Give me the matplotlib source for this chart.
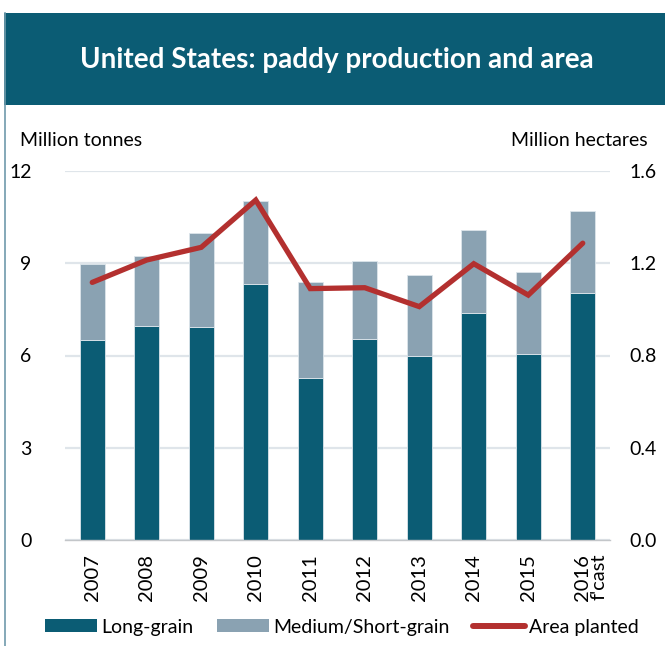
import matplotlib
matplotlib.use("Agg")
import matplotlib.pyplot as plt
from matplotlib.patches import Rectangle, Patch
from matplotlib.lines import Line2D
import numpy as np

plt.rcParams['font.family'] = ['Lato', 'DejaVu Sans']

years = ["2007", "2008", "2009", "2010", "2011", "2012", "2013", "2014", "2015", "2016"]
long_grain = [6.49, 6.96, 6.93, 8.31, 5.28, 6.54, 5.99, 7.38, 6.04, 8.02]
total = [8.99, 9.24, 9.97, 11.02, 8.39, 9.07, 8.62, 10.07, 8.73, 10.70]
medium_short = [t - l for t, l in zip(total, long_grain)]
area = [1.117, 1.214, 1.269, 1.474, 1.090, 1.094, 1.012, 1.198, 1.062, 1.287]
left_ticks = [0, 3, 6, 9, 12]
right_ticks = [0.0, 0.4, 0.8, 1.2, 1.6]

C_LONG = '#0b5c74'
C_MED = '#8aa2b2'
C_LINE = '#b3302f'
C_BANNER = '#0b5c74'

W, H = 665, 646
fig = plt.figure(figsize=(W / 100, H / 100), dpi=100)

# banner
fig.patches.append(Rectangle((4 / W, 1 - 105 / H), 1 - 4 / W, 92 / H,
                             transform=fig.transFigure, facecolor=C_BANNER,
                             edgecolor='none', zorder=0))
# left border line
fig.lines.append(Line2D([4.5 / W, 4.5 / W], [0, 1 - 13 / H], transform=fig.transFigure,
                        color='#6f9aab', lw=1.2))
fig.text(337 / W, 1 - 60 / H, "United States: paddy production and area",
         color='white', fontsize=20, fontweight='bold', ha='center', va='center')

ax = fig.add_axes([65 / W, 1 - 540 / H, 545 / W, 369 / H])
x = np.arange(len(years))
bw = 0.46
ax.bar(x, long_grain, width=bw, color=C_LONG, edgecolor='#dce5eb', linewidth=0.6, zorder=2)
ax.bar(x, medium_short, bottom=long_grain, width=bw, color=C_MED, edgecolor='#dce5eb',
       linewidth=0.6, zorder=2)
ax.set_xlim(-0.5, len(years) - 0.5)
ax.set_ylim(0, 12)
ax.set_yticks(left_ticks)
ax.set_yticklabels([str(t) for t in left_ticks])
ax.set_xticks(x)
ax.set_xticklabels(years, rotation=90, fontsize=14.5)
ax.tick_params(axis='x', length=0, pad=10)
ax.tick_params(axis='y', length=0, pad=24, labelsize=14)
ax.grid(axis='y', color='#dfe5ea', lw=1.6, zorder=0)
ax.set_axisbelow(True)
for s in ['top', 'right', 'left']:
    ax.spines[s].set_visible(False)
ax.spines['bottom'].set_color('#c3c6c9')
ax.spines['bottom'].set_linewidth(1.0)
ax.spines['bottom'].set_zorder(3)

ax.annotate("f'cast", xy=(9, 0), xycoords=('data', 'axes fraction'),
            xytext=(12, -10), textcoords='offset points', rotation=90,
            ha='center', va='top', fontsize=14.5)

ax2 = ax.twinx()
ax2.plot(x, area, color=C_LINE, lw=3.8, solid_capstyle='round', solid_joinstyle='miter', zorder=4)
ax2.set_ylim(0, 1.6)
ax2.set_yticks(right_ticks)
ax2.set_yticklabels([f"{t:.1f}" for t in right_ticks])
ax2.tick_params(axis='y', length=0, pad=14, labelsize=14)
for s in ['top', 'right', 'left', 'bottom']:
    ax2.spines[s].set_visible(False)

fig.text(20 / W, 1 - 146 / H, "Million tonnes", fontsize=14, ha='left', va='baseline')
fig.text(648 / W, 1 - 146 / H, "Million hectares", fontsize=14, ha='right', va='baseline')

handles = [Patch(facecolor=C_LONG, edgecolor='none'),
           Patch(facecolor=C_MED, edgecolor='none'),
           Line2D([0], [0], color=C_LINE, lw=4.3, solid_capstyle='round')]
labels = ["Long-grain", "Medium/Short-grain", "Area planted"]
fig.legend(handles, labels, loc='center', bbox_to_anchor=(342 / W, 1 - 627 / H), ncol=3,
           frameon=False, fontsize=14, handlelength=2.7, handleheight=0.6,
           handletextpad=0.2, columnspacing=1.2, borderaxespad=0, borderpad=0)

fig.savefig("out.png", dpi=100, facecolor='white')
